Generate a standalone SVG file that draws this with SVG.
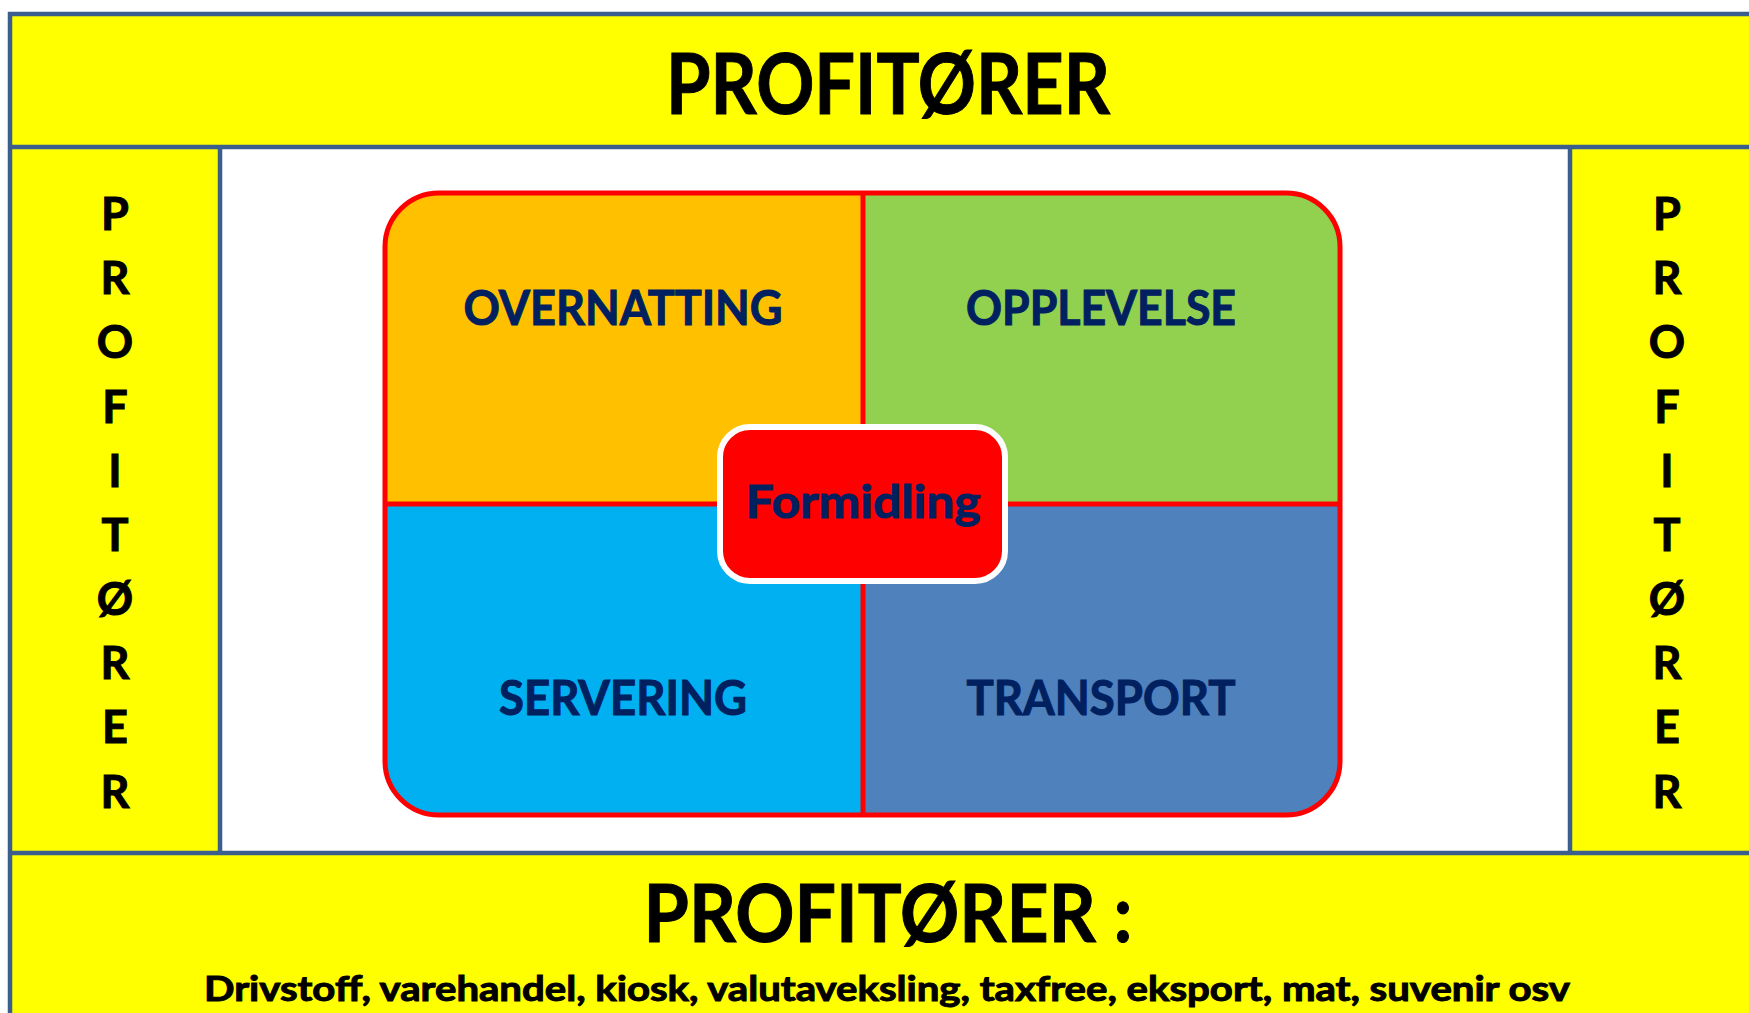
<svg xmlns="http://www.w3.org/2000/svg" width="1749" height="1013" viewBox="0 0 1749 1013">
<style>
.band{fill:#FFFF00}
.frame{fill:none;stroke:#3B5E8C;stroke-width:4.5}
.blk{font-family:Lato,"Open Sans","Liberation Sans",sans-serif;font-weight:bold;fill:#000;stroke:#000;stroke-width:1}
.nav{font-family:Lato,"Open Sans","Liberation Sans",sans-serif;font-weight:bold;fill:#002060;stroke:#002060;stroke-width:1}
.vert{font-size:45px;text-anchor:middle}
.quad{font-size:48px;text-anchor:middle}
</style>
<defs>
<clipPath id="rr"><rect x="385" y="193" width="955" height="622" rx="54" ry="54"/></clipPath>
</defs>
<rect x="0" y="0" width="1749" height="1013" fill="#FFFFFF"/>
<g id="top-band">
<rect class="band" x="10" y="14" width="1760" height="133"/>
<text class="blk" x="888" y="114" font-size="84" text-anchor="middle" textLength="444" lengthAdjust="spacingAndGlyphs" stroke-width="1.5">PROFITØRER</text>
</g>
<g id="left-column">
<rect class="band" x="10" y="147" width="210" height="706"/>
<text class="blk vert" x="115" y="230">P</text>
<text class="blk vert" x="115" y="294">R</text>
<text class="blk vert" x="115" y="358">O</text>
<text class="blk vert" x="115" y="423">F</text>
<text class="blk vert" x="115" y="487">I</text>
<text class="blk vert" x="115" y="551">T</text>
<text class="blk vert" x="115" y="615">Ø</text>
<text class="blk vert" x="115" y="679">R</text>
<text class="blk vert" x="115" y="743">E</text>
<text class="blk vert" x="115" y="808">R</text>
</g>
<g id="right-column">
<rect class="band" x="1570" y="147" width="200" height="706"/>
<text class="blk vert" x="1667" y="230">P</text>
<text class="blk vert" x="1667" y="294">R</text>
<text class="blk vert" x="1667" y="358">O</text>
<text class="blk vert" x="1667" y="423">F</text>
<text class="blk vert" x="1667" y="487">I</text>
<text class="blk vert" x="1667" y="551">T</text>
<text class="blk vert" x="1667" y="615">Ø</text>
<text class="blk vert" x="1667" y="679">R</text>
<text class="blk vert" x="1667" y="743">E</text>
<text class="blk vert" x="1667" y="808">R</text>
</g>
<g id="bottom-band">
<rect class="band" x="10" y="853" width="1760" height="170"/>
<text class="blk" x="888" y="942" font-size="81" text-anchor="middle" textLength="489" lengthAdjust="spacingAndGlyphs" stroke-width="1.5">PROFITØRER :</text>
<text class="blk" x="887" y="1001" font-size="34" text-anchor="middle" textLength="1366" lengthAdjust="spacingAndGlyphs" stroke-width="0.7">Drivstoff, varehandel, kiosk, valutaveksling, taxfree, eksport, mat, suvenir osv</text>
</g>
<g id="frame-lines">
<path class="frame" d="M10,1020 V14 H1770 M10,147 H1770 M10,853 H1770 M220,147 V853 M1570,147 V853"/>
</g>
<g id="quadrants">
<g clip-path="url(#rr)">
<rect x="385" y="193" width="478" height="311" fill="#FFC000"/>
<rect x="863" y="193" width="477" height="311" fill="#92D050"/>
<rect x="385" y="504" width="478" height="311" fill="#00B0F0"/>
<rect x="863" y="504" width="477" height="311" fill="#4F81BD"/>
</g>
<path d="M863,193 V815 M385,504 H1340" stroke="#FF0000" stroke-width="5" fill="none"/>
<rect x="385" y="193" width="955" height="622" rx="54" ry="54" fill="none" stroke="#FF0000" stroke-width="5"/>
</g>
<g id="overnatting"><text class="nav quad" x="623" y="325" textLength="319" lengthAdjust="spacingAndGlyphs">OVERNATTING</text></g>
<g id="opplevelse"><text class="nav quad" x="1101" y="325" textLength="270" lengthAdjust="spacingAndGlyphs">OPPLEVELSE</text></g>
<g id="servering"><text class="nav quad" x="623" y="715" textLength="248" lengthAdjust="spacingAndGlyphs">SERVERING</text></g>
<g id="transport"><text class="nav quad" x="1101" y="715" textLength="269" lengthAdjust="spacingAndGlyphs">TRANSPORT</text></g>
<g id="formidling">
<rect x="720" y="427" width="285" height="154" rx="30" ry="30" fill="#FF0000" stroke="#FFFFFF" stroke-width="6"/>
<text class="nav" x="863" y="518" font-size="46" text-anchor="middle" textLength="235" lengthAdjust="spacingAndGlyphs">Formidling</text>
</g>
<g id="connectors"/>
</svg>
